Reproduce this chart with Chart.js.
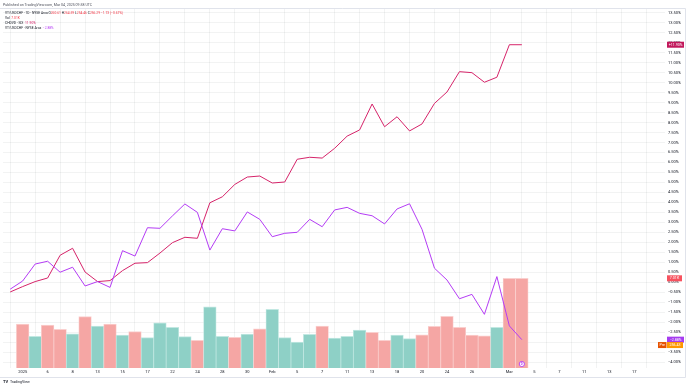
<!DOCTYPE html>
<html>
<head>
<meta charset="utf-8">
<script src="https://cdn.jsdelivr.net/npm/chart.js@4.4.1/dist/chart.umd.min.js"></script>
<style>
  html, body { margin: 0; padding: 0; background: #fff; }
</style>
</head>
<body>
<canvas id="chart" width="689" height="388"></canvas>
<script>
// trading days shown; 'Dec 31' is the stub that runs off the left edge
const dates = ['Dec 31', 'Jan 2', 'Jan 3', 'Jan 6', 'Jan 7', 'Jan 8', 'Jan 10', 'Jan 13', 'Jan 14', 'Jan 15',
  'Jan 16', 'Jan 17', 'Jan 21', 'Jan 22', 'Jan 23', 'Jan 24', 'Jan 27', 'Jan 28', 'Jan 29', 'Jan 30',
  'Jan 31', 'Feb 3', 'Feb 4', 'Feb 5', 'Feb 6', 'Feb 7', 'Feb 10', 'Feb 11', 'Feb 12', 'Feb 13',
  'Feb 14', 'Feb 18', 'Feb 19', 'Feb 20', 'Feb 21', 'Feb 24', 'Feb 25', 'Feb 26', 'Feb 27', 'Feb 28',
  'Mar 3', 'Mar 4'];

// % change, one per date
const chdvd = [-0.49, -0.22, 0.03, 0.21, 1.35, 1.70, 0.51, 0.03, 0.08, 0.58,
  0.95, 0.98, 1.46, 1.98, 2.25, 2.20, 3.98, 4.28, 4.90, 5.27,
  5.32, 4.97, 5.02, 6.16, 6.26, 6.22, 6.71, 7.32, 7.63, 8.93,
  7.79, 8.29, 7.58, 7.93, 8.96, 9.53, 10.55, 10.50, 10.02, 10.27,
  11.90, 11.90];
const vtChf = [-0.35, 0.06, 0.91, 1.05, 0.50, 0.75, -0.19, 0.03, -0.26, 1.58,
  1.31, 2.73, 2.70, 3.32, 3.92, 3.50, 1.61, 2.68, 2.57, 3.52,
  3.15, 2.28, 2.45, 2.50, 3.15, 2.78, 3.62, 3.75, 3.45, 3.33,
  2.92, 3.67, 3.93, 2.65, 0.70, 0.11, -0.83, -0.61, -1.61, 0.28,
  -2.19, -2.88];

// volume (K), Jan 2 .. Mar 4, and whether the bar closed up or down
const volume = [3.44, 2.48, 3.36, 3.02, 2.68, 4.01, 3.28, 3.44, 2.58, 2.84,
  2.37, 3.54, 3.18, 2.45, 2.16, 4.79, 2.48, 2.40, 2.66, 3.07,
  4.59, 2.37, 2.03, 2.63, 3.28, 2.34, 2.48, 2.97, 2.79, 2.16,
  2.58, 2.29, 2.60, 3.26, 4.04, 3.18, 2.58, 2.52, 3.18, 7.01,
  7.01];
const volDir = ['d', 'u', 'd', 'd', 'u', 'd', 'u', 'd', 'u', 'd',
  'u', 'u', 'u', 'u', 'd', 'u', 'u', 'd', 'u', 'd',
  'u', 'u', 'u', 'u', 'd', 'u', 'u', 'u', 'd', 'd',
  'u', 'u', 'd', 'd', 'd', 'd', 'd', 'd', 'u', 'd',
  'd'];

// time axis labels, in bar units (Jan 2 = 0)
const timeTickPos = [0, 2, 4, 6, 8, 10, 12, 14, 16, 18, 20, 22, 24, 26, 28, 30, 32, 34, 36, 39, 41, 43, 45, 47, 49];
const timeTickText = ['2025', '6', '8', '13', '15', '17', '22', '24', '28', '30', 'Feb', '5', '7', '11', '13',
  '18', '20', '24', '26', 'Mar', '5', '7', '11', '13', '17'];
const pctTicks = [-4, -3.5, -3, -2.5, -2, -1.5, -1, -0.5, 0, 0.5, 1, 1.5, 2, 2.5, 3, 3.5, 4, 4.5, 5, 5.5,
  6, 6.5, 7, 7.5, 8, 8.5, 9, 9.5, 10, 10.5, 11, 11.5, 12, 12.5, 13, 13.5];

const mainClose = 'C256.29';
const preMarket = 256.43;
const preMarketPct = -3.15;

const PINK = '#d6246a';
const PURPLE = '#b43cf5';
const RED = '#f23645';
const DARK = '#131722';
const FONT = 'Roboto, "DejaVu Sans", sans-serif';

function fmtPct(v) {
  const s = Math.abs(v).toFixed(2) + '%';
  return v < 0 ? '\u2212' + s : s;
}

function noPad(s) {
  s.paddingTop = 0; s.paddingBottom = 0; s.paddingLeft = 0; s.paddingRight = 0;
}

function drawRuns(ctx, x, y, runs) {
  for (const [text, color] of runs) {
    ctx.fillStyle = color;
    ctx.fillText(text, x, y);
    x += ctx.measureText(text).width;
  }
}

function tag(ctx, x, y, w, text, bg) {
  ctx.fillStyle = bg;
  ctx.fillRect(x, y - 3, w, 6);
  ctx.fillStyle = '#fff';
  ctx.textAlign = 'center';
  ctx.fillText(text, x + w / 2, y + 0.2);
  ctx.textAlign = 'left';
}

const overlay = {
  id: 'overlay',
  beforeDraw(chart) {
    const ctx = chart.ctx;
    ctx.save();
    ctx.fillStyle = '#fff';
    ctx.fillRect(0, 0, chart.width, chart.height);
    ctx.restore();
  },
  afterDraw(chart) {
    const ctx = chart.ctx;
    const area = chart.chartArea;
    const y = chart.scales.y, vol = chart.scales.yVol, x = chart.scales.x;
    ctx.save();
    // frame
    ctx.strokeStyle = '#e0e3eb';
    ctx.lineWidth = 1;
    ctx.beginPath();
    ctx.moveTo(0, 8.5); ctx.lineTo(685.5, 8.5);
    ctx.moveTo(0, 377.5); ctx.lineTo(685.5, 377.5);
    ctx.moveTo(685.5, 8.5); ctx.lineTo(685.5, 377.5);
    ctx.stroke();

    ctx.textBaseline = 'middle';
    ctx.font = '3.6px ' + FONT;
    ctx.fillStyle = '#50535e';
    ctx.fillText('Published on TradingView.com, Mar 04, 2025 09:38 UTC', 3, 4.8);

    ctx.font = '3.3px ' + FONT;
    drawRuns(ctx, 5, 13.3, [['VT/USDCHF \u00b7 1D \u00b7 NYSE Arca ', DARK], ['O', DARK], ['260.61', RED],
      [' H', DARK], ['264.59', RED], [' L', DARK], ['254.46', RED], [' C', DARK], [mainClose.slice(1), RED],
      [' \u22121.73 (\u22120.67%)', RED]]);
    drawRuns(ctx, 5, 18.5, [['Vol  ', DARK], [volume[volume.length - 1].toFixed(2) + 'K', RED]]);
    drawRuns(ctx, 5, 23.4, [['CHDVD \u00b7 SIX  ', DARK], [fmtPct(chdvd[chdvd.length - 1]), PINK]]);
    drawRuns(ctx, 5, 28.4, [['VT/USDCHF \u00b7 NYSE Arca  ', DARK], [fmtPct(vtChf[vtChf.length - 1]), PURPLE]]);

    // price axis tags
    ctx.font = '3.6px ' + FONT;
    const tx = area.right + 2;
    tag(ctx, tx, y.getPixelForValue(chdvd[chdvd.length - 1]), 17, '+' + fmtPct(chdvd[chdvd.length - 1]), '#c2185b');
    tag(ctx, tx, vol.getPixelForValue(volume[volume.length - 1]), 15, volume[volume.length - 1].toFixed(2) + 'K', '#f7525f');
    tag(ctx, tx, y.getPixelForValue(vtChf[vtChf.length - 1]), 17, fmtPct(vtChf[vtChf.length - 1]), '#a63cf0');
    const py = y.getPixelForValue(preMarketPct);
    tag(ctx, tx - 9, py, 8.5, 'Pre', '#e65100');
    tag(ctx, tx, py, 16, preMarket.toFixed(2), '#ff9800');

    // event marker under last bar
    const mx = x.getPixelForValue(volume.length - 1);
    ctx.beginPath();
    ctx.arc(mx, area.bottom - 4, 2.6, 0, Math.PI * 2);
    ctx.fillStyle = '#fff';
    ctx.fill();
    ctx.strokeStyle = PURPLE;
    ctx.lineWidth = 0.9;
    ctx.stroke();
    ctx.fillStyle = PURPLE;
    ctx.font = 'bold 3px ' + FONT;
    ctx.textAlign = 'center';
    ctx.fillText('D', mx, area.bottom - 3.8);

    // logo
    ctx.textAlign = 'left';
    ctx.fillStyle = DARK;
    ctx.font = 'bold 4px ' + FONT;
    ctx.fillText('TV', 3, 382);
    ctx.font = '3.6px ' + FONT;
    ctx.fillText('TradingView', 10, 382);
    ctx.restore();
  }
};

new Chart(document.getElementById('chart'), {
  data: {
    datasets: [
      {
        type: 'line',
        data: vtChf.map((v, k) => ({ x: k - 1, y: v })),
        borderColor: PURPLE,
        borderWidth: 1,
        pointRadius: 0,
        tension: 0,
        yAxisID: 'y',
        order: 1
      },
      {
        type: 'line',
        data: chdvd.map((v, k) => ({ x: k - 1, y: v })),
        borderColor: PINK,
        borderWidth: 1,
        pointRadius: 0,
        tension: 0,
        yAxisID: 'y',
        order: 2
      },
      {
        type: 'bar',
        data: volume.map((v, k) => ({ x: k, y: v })),
        backgroundColor: volDir.map(d => d === 'u' ? '#8ed0c6' : '#f5a6a4'),
        borderColor: volDir.map(d => d === 'u' ? '#c2e8e2' : '#fad0cf'),
        borderWidth: { top: 1, left: 0.8, right: 0.8, bottom: 0 },
        borderSkipped: false,
        barThickness: 12.6,
        yAxisID: 'yVol',
        order: 3
      }
    ]
  },
  options: {
    responsive: false,
    animation: false,
    devicePixelRatio: 1,
    layout: { padding: { left: 3, right: 4, top: 9, bottom: 11 } },
    plugins: {
      legend: { display: false },
      tooltip: { enabled: false }
    },
    scales: {
      x: {
        type: 'linear',
        position: 'bottom',
        min: -0.515,
        max: 50.41,
        afterBuildTicks: s => { s.ticks = timeTickPos.map(v => ({ value: v })); },
        afterFit: s => { s.height = 9; noPad(s); },
        grid: { color: 'rgba(42,46,57,0.06)', drawTicks: false },
        border: { display: false },
        ticks: {
          autoSkip: false,
          maxRotation: 0,
          padding: 2,
          color: DARK,
          font: { size: 4, family: FONT },
          callback: (v, i) => timeTickText[i]
        }
      },
      y: {
        type: 'linear',
        position: 'right',
        min: -4.30,
        max: 13.69,
        afterBuildTicks: s => { s.ticks = pctTicks.map(v => ({ value: v })); },
        afterFit: s => { s.width = 20; noPad(s); },
        grid: { color: 'rgba(42,46,57,0.06)', drawTicks: false },
        border: { display: false },
        ticks: {
          padding: 3,
          color: DARK,
          font: { size: 4, family: FONT },
          callback: v => fmtPct(v)
        }
      },
      yVol: {
        type: 'linear',
        display: false,
        min: 0,
        max: 28.06
      }
    }
  },
  plugins: [overlay]
});
</script>
</body>
</html>
